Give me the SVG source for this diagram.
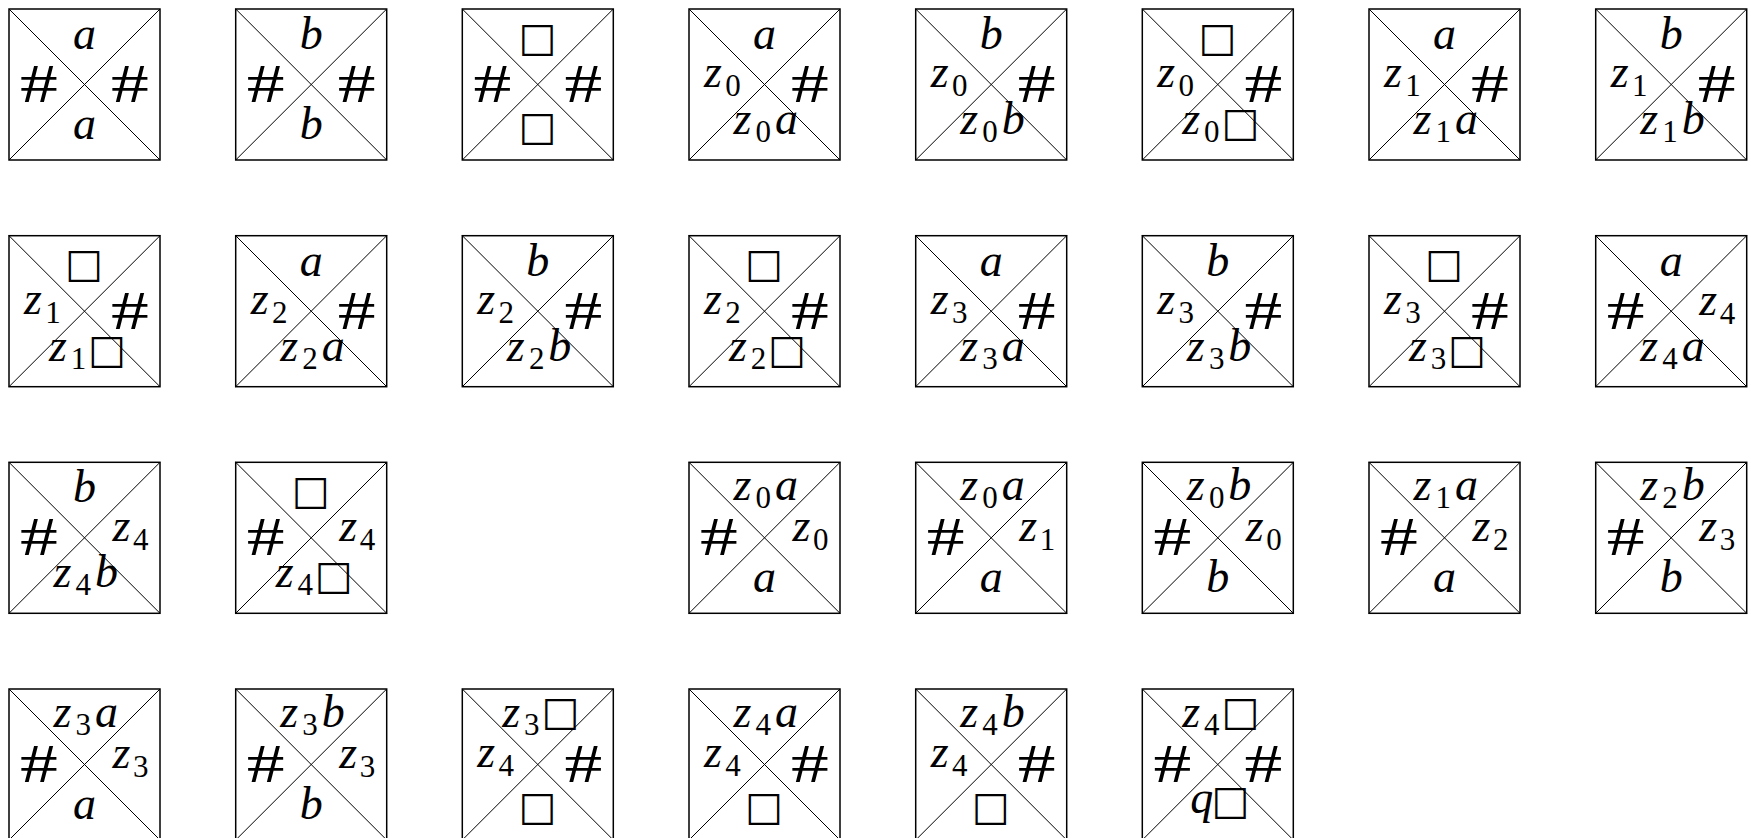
<svg xmlns="http://www.w3.org/2000/svg" xmlns:xlink="http://www.w3.org/1999/xlink" width="1751" height="838" viewBox="0 0 1751 838">
<style>
.fr{fill:#fff;stroke:#000;stroke-width:1.5}
.dg{stroke:#000;stroke-width:1}
.v{font-family:"Liberation Serif",serif;font-style:italic;font-size:46px;fill:#000}
.s{font-family:"Liberation Serif",serif;font-style:normal;font-size:31px}
.h{font-family:"Liberation Serif",serif;font-size:54px;text-anchor:middle;fill:#000}
.q{font-family:"DejaVu Sans",sans-serif;font-style:normal;font-size:40px;fill:#000}
.c{text-anchor:middle}
</style>
<defs>
<g id="frame"><rect class="fr" x="0" y="0" width="151" height="151"/><line class="dg" x1="0" y1="0" x2="151" y2="151"/><line class="dg" x1="151" y1="0" x2="0" y2="151"/></g>
<text id="hl" class="h" transform="translate(30,93) scale(1.4,1)">#</text>
<text id="hr" class="h" transform="translate(121,93) scale(1.4,1)">#</text>
</defs>
<rect width="1751" height="838" fill="#fff"/>
<g id="nodes">
<!-- Row 1 -->
<g id="t1" transform="translate(9,9)"><use xlink:href="#frame"/>
<text class="v c" x="75.5" y="40">a</text><use xlink:href="#hl"/><use xlink:href="#hr"/><text class="v c" x="75.5" y="130">a</text></g>
<g id="t2" transform="translate(235.7,9)"><use xlink:href="#frame"/>
<text class="v c" x="75.5" y="40">b</text><use xlink:href="#hl"/><use xlink:href="#hr"/><text class="v c" x="75.5" y="130">b</text></g>
<g id="t3" transform="translate(462.3,9)"><use xlink:href="#frame"/>
<text class="q c" x="75" y="41.5">□</text><use xlink:href="#hl"/><use xlink:href="#hr"/><text class="q c" x="75" y="131">□</text></g>
<g id="t4" transform="translate(689,9)"><use xlink:href="#frame"/>
<text class="v c" x="75.5" y="40">a</text><text class="v" x="15" y="78">z<tspan class="s" x="36.2" dy="9">0</tspan></text><use xlink:href="#hr"/><text class="v" x="44.5" y="125">z<tspan class="s" x="66.6" dy="8">0</tspan><tspan x="86" dy="-8">a</tspan></text></g>
<g id="t5" transform="translate(915.7,9)"><use xlink:href="#frame"/>
<text class="v c" x="75.5" y="40">b</text><text class="v" x="15" y="78">z<tspan class="s" x="36.2" dy="9">0</tspan></text><use xlink:href="#hr"/><text class="v" x="44.5" y="125">z<tspan class="s" x="66.6" dy="8">0</tspan><tspan x="86" dy="-8">b</tspan></text></g>
<g id="t6" transform="translate(1142.3,9)"><use xlink:href="#frame"/>
<text class="q c" x="75" y="41.5">□</text><text class="v" x="15" y="78">z<tspan class="s" x="36.2" dy="9">0</tspan></text><use xlink:href="#hr"/><text class="v" x="40" y="125">z<tspan class="s" x="61.7" dy="8">0</tspan><tspan class="q c" x="98" dy="-6">□</tspan></text></g>
<g id="t7" transform="translate(1369,9)"><use xlink:href="#frame"/>
<text class="v c" x="75.5" y="40">a</text><text class="v" x="15" y="78">z<tspan class="s" x="36.2" dy="9">1</tspan></text><use xlink:href="#hr"/><text class="v" x="44.5" y="125">z<tspan class="s" x="66.6" dy="8">1</tspan><tspan x="86" dy="-8">a</tspan></text></g>
<g id="t8" transform="translate(1595.7,9)"><use xlink:href="#frame"/>
<text class="v c" x="75.5" y="40">b</text><text class="v" x="15" y="78">z<tspan class="s" x="36.2" dy="9">1</tspan></text><use xlink:href="#hr"/><text class="v" x="44.5" y="125">z<tspan class="s" x="66.6" dy="8">1</tspan><tspan x="86" dy="-8">b</tspan></text></g>
<!-- Row 2 -->
<g id="t9" transform="translate(9,235.7)"><use xlink:href="#frame"/>
<text class="q c" x="75" y="41.5">□</text><text class="v" x="15" y="78">z<tspan class="s" x="36.2" dy="9">1</tspan></text><use xlink:href="#hr"/><text class="v" x="40" y="125">z<tspan class="s" x="61.7" dy="8">1</tspan><tspan class="q c" x="98" dy="-6">□</tspan></text></g>
<g id="t10" transform="translate(235.7,235.7)"><use xlink:href="#frame"/>
<text class="v c" x="75.5" y="40">a</text><text class="v" x="15" y="78">z<tspan class="s" x="36.2" dy="9">2</tspan></text><use xlink:href="#hr"/><text class="v" x="44.5" y="125">z<tspan class="s" x="66.6" dy="8">2</tspan><tspan x="86" dy="-8">a</tspan></text></g>
<g id="t11" transform="translate(462.3,235.7)"><use xlink:href="#frame"/>
<text class="v c" x="75.5" y="40">b</text><text class="v" x="15" y="78">z<tspan class="s" x="36.2" dy="9">2</tspan></text><use xlink:href="#hr"/><text class="v" x="44.5" y="125">z<tspan class="s" x="66.6" dy="8">2</tspan><tspan x="86" dy="-8">b</tspan></text></g>
<g id="t12" transform="translate(689,235.7)"><use xlink:href="#frame"/>
<text class="q c" x="75" y="41.5">□</text><text class="v" x="15" y="78">z<tspan class="s" x="36.2" dy="9">2</tspan></text><use xlink:href="#hr"/><text class="v" x="40" y="125">z<tspan class="s" x="61.7" dy="8">2</tspan><tspan class="q c" x="98" dy="-6">□</tspan></text></g>
<g id="t13" transform="translate(915.7,235.7)"><use xlink:href="#frame"/>
<text class="v c" x="75.5" y="40">a</text><text class="v" x="15" y="78">z<tspan class="s" x="36.2" dy="9">3</tspan></text><use xlink:href="#hr"/><text class="v" x="44.5" y="125">z<tspan class="s" x="66.6" dy="8">3</tspan><tspan x="86" dy="-8">a</tspan></text></g>
<g id="t14" transform="translate(1142.3,235.7)"><use xlink:href="#frame"/>
<text class="v c" x="75.5" y="40">b</text><text class="v" x="15" y="78">z<tspan class="s" x="36.2" dy="9">3</tspan></text><use xlink:href="#hr"/><text class="v" x="44.5" y="125">z<tspan class="s" x="66.6" dy="8">3</tspan><tspan x="86" dy="-8">b</tspan></text></g>
<g id="t15" transform="translate(1369,235.7)"><use xlink:href="#frame"/>
<text class="q c" x="75" y="41.5">□</text><text class="v" x="15" y="78">z<tspan class="s" x="36.2" dy="9">3</tspan></text><use xlink:href="#hr"/><text class="v" x="40" y="125">z<tspan class="s" x="61.7" dy="8">3</tspan><tspan class="q c" x="98" dy="-6">□</tspan></text></g>
<g id="t16" transform="translate(1595.7,235.7)"><use xlink:href="#frame"/>
<text class="v c" x="75.5" y="40">a</text><use xlink:href="#hl"/><text class="v" x="103.5" y="79">z<tspan class="s" x="124" dy="9">4</tspan></text><text class="v" x="44.5" y="125">z<tspan class="s" x="66.6" dy="8">4</tspan><tspan x="86" dy="-8">a</tspan></text></g>
<!-- Row 3 -->
<g id="t17" transform="translate(9,462.3)"><use xlink:href="#frame"/>
<text class="v c" x="75.5" y="40">b</text><use xlink:href="#hl"/><text class="v" x="103.5" y="79">z<tspan class="s" x="124" dy="9">4</tspan></text><text class="v" x="44.5" y="125">z<tspan class="s" x="66.6" dy="8">4</tspan><tspan x="86" dy="-8">b</tspan></text></g>
<g id="t18" transform="translate(235.7,462.3)"><use xlink:href="#frame"/>
<text class="q c" x="75" y="41.5">□</text><use xlink:href="#hl"/><text class="v" x="103.5" y="79">z<tspan class="s" x="124" dy="9">4</tspan></text><text class="v" x="40" y="125">z<tspan class="s" x="61.7" dy="8">4</tspan><tspan class="q c" x="98" dy="-6">□</tspan></text></g>
<g id="t19" transform="translate(689,462.3)"><use xlink:href="#frame"/>
<text class="v" x="44.5" y="38">z<tspan class="s" x="66.6" dy="8">0</tspan><tspan x="86" dy="-8">a</tspan></text><use xlink:href="#hl"/><text class="v" x="103.5" y="79">z<tspan class="s" x="124" dy="9">0</tspan></text><text class="v c" x="75.5" y="130">a</text></g>
<g id="t20" transform="translate(915.7,462.3)"><use xlink:href="#frame"/>
<text class="v" x="44.5" y="38">z<tspan class="s" x="66.6" dy="8">0</tspan><tspan x="86" dy="-8">a</tspan></text><use xlink:href="#hl"/><text class="v" x="103.5" y="79">z<tspan class="s" x="124" dy="9">1</tspan></text><text class="v c" x="75.5" y="130">a</text></g>
<g id="t21" transform="translate(1142.3,462.3)"><use xlink:href="#frame"/>
<text class="v" x="44.5" y="38">z<tspan class="s" x="66.6" dy="8">0</tspan><tspan x="86" dy="-8">b</tspan></text><use xlink:href="#hl"/><text class="v" x="103.5" y="79">z<tspan class="s" x="124" dy="9">0</tspan></text><text class="v c" x="75.5" y="130">b</text></g>
<g id="t22" transform="translate(1369,462.3)"><use xlink:href="#frame"/>
<text class="v" x="44.5" y="38">z<tspan class="s" x="66.6" dy="8">1</tspan><tspan x="86" dy="-8">a</tspan></text><use xlink:href="#hl"/><text class="v" x="103.5" y="79">z<tspan class="s" x="124" dy="9">2</tspan></text><text class="v c" x="75.5" y="130">a</text></g>
<g id="t23" transform="translate(1595.7,462.3)"><use xlink:href="#frame"/>
<text class="v" x="44.5" y="38">z<tspan class="s" x="66.6" dy="8">2</tspan><tspan x="86" dy="-8">b</tspan></text><use xlink:href="#hl"/><text class="v" x="103.5" y="79">z<tspan class="s" x="124" dy="9">3</tspan></text><text class="v c" x="75.5" y="130">b</text></g>
<!-- Row 4 -->
<g id="t24" transform="translate(9,689)"><use xlink:href="#frame"/>
<text class="v" x="44.5" y="38">z<tspan class="s" x="66.6" dy="8">3</tspan><tspan x="86" dy="-8">a</tspan></text><use xlink:href="#hl"/><text class="v" x="103.5" y="79">z<tspan class="s" x="124" dy="9">3</tspan></text><text class="v c" x="75.5" y="130">a</text></g>
<g id="t25" transform="translate(235.7,689)"><use xlink:href="#frame"/>
<text class="v" x="44.5" y="38">z<tspan class="s" x="66.6" dy="8">3</tspan><tspan x="86" dy="-8">b</tspan></text><use xlink:href="#hl"/><text class="v" x="103.5" y="79">z<tspan class="s" x="124" dy="9">3</tspan></text><text class="v c" x="75.5" y="130">b</text></g>
<g id="t26" transform="translate(462.3,689)"><use xlink:href="#frame"/>
<text class="v" x="40" y="38">z<tspan class="s" x="61.7" dy="8">3</tspan><tspan class="q c" x="98" dy="-10">□</tspan></text><text class="v" x="15" y="78">z<tspan class="s" x="36.2" dy="9">4</tspan></text><use xlink:href="#hr"/><text class="q c" x="75" y="131">□</text></g>
<g id="t27" transform="translate(689,689)"><use xlink:href="#frame"/>
<text class="v" x="44.5" y="38">z<tspan class="s" x="66.6" dy="8">4</tspan><tspan x="86" dy="-8">a</tspan></text><text class="v" x="15" y="78">z<tspan class="s" x="36.2" dy="9">4</tspan></text><use xlink:href="#hr"/><text class="q c" x="75" y="131">□</text></g>
<g id="t28" transform="translate(915.7,689)"><use xlink:href="#frame"/>
<text class="v" x="44.5" y="38">z<tspan class="s" x="66.6" dy="8">4</tspan><tspan x="86" dy="-8">b</tspan></text><text class="v" x="15" y="78">z<tspan class="s" x="36.2" dy="9">4</tspan></text><use xlink:href="#hr"/><text class="q c" x="75" y="131">□</text></g>
<g id="t29" transform="translate(1142.3,689)"><use xlink:href="#frame"/>
<text class="v" x="40" y="38">z<tspan class="s" x="61.7" dy="8">4</tspan><tspan class="q c" x="98" dy="-10">□</tspan></text><use xlink:href="#hl"/><use xlink:href="#hr"/><text class="v" x="48" y="124">q<tspan class="q c" x="88" dy="1">□</tspan></text></g>
</g>
<g id="connectors"></g>
</svg>
